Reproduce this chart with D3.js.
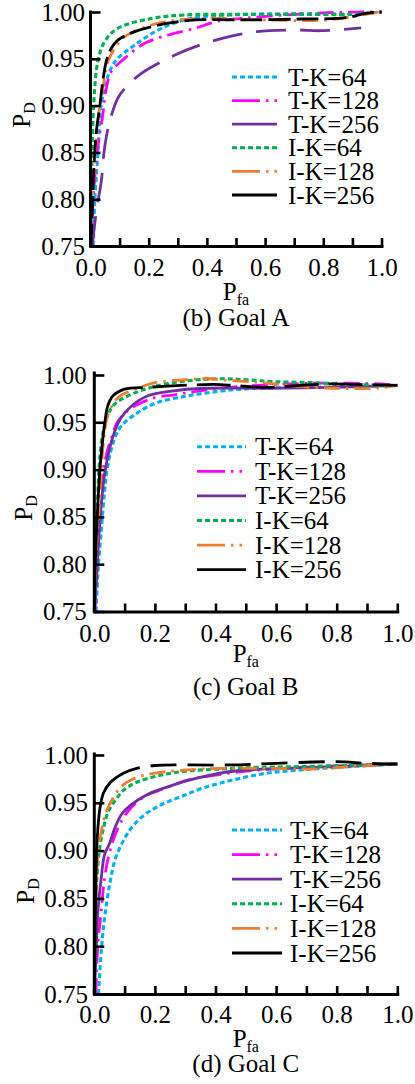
<!DOCTYPE html>
<html>
<head>
<meta charset="utf-8">
<script src="https://cdn.jsdelivr.net/npm/d3@7"></script>
<style>
  body { margin: 0; background: #fff; }
  svg { display: block; }
  text { font-family: "Liberation Serif", "Times New Roman", serif; fill: #000; }
</style>
</head>
<body>
<svg id="chart" width="415" height="1084"></svg>
<script>
// ---- series and tick definitions ----
const seriesNames  = ["T-K=64", "T-K=128", "T-K=256", "I-K=64", "I-K=128", "I-K=256"];
const seriesColors = ["#00b0f0", "#ff00ff", "#7030a0", "#00b050", "#ed7d31", "#000000"];
const yTickValues  = [0.75, 0.80, 0.85, 0.90, 0.95, 1.00];
const xTickValues  = [0, 0.1, 0.2, 0.3, 0.4, 0.5, 0.6, 0.7, 0.8, 0.9, 1.0];
const xLabelValues = [0, 0.2, 0.4, 0.6, 0.8, 1.0];
const panelCaptions = ["(b) Goal A", "(c) Goal B", "(d) Goal C"];

// ---- ROC points [Pfa, PD], Goal A ----
const goalA_TK64  = [[0.010,0.750],[0.014,0.794],[0.025,0.847],[0.037,0.901],[0.054,0.9255],[0.071,0.940],[0.094,0.9505],[0.152,0.9647],[0.244,0.9826],[0.347,0.9933],[0.50,0.997],[0.70,0.998],[0.90,0.998],[1.0,1.0]];
const goalA_TK128 = [[0.006,0.750],[0.008,0.794],[0.025,0.855],[0.042,0.890],[0.054,0.918],[0.071,0.936],[0.117,0.9505],[0.186,0.9665],[0.267,0.9754],[0.359,0.9826],[0.433,0.9897],[0.548,0.994],[0.709,0.9975],[0.859,0.9997],[1.0,1.0]];
const goalA_TK256 = [[0.006,0.750],[0.020,0.787],[0.037,0.819],[0.048,0.854],[0.066,0.883],[0.094,0.908],[0.117,0.918],[0.175,0.9345],[0.290,0.954],[0.376,0.9647],[0.491,0.9747],[0.571,0.979],[0.709,0.9808],[0.790,0.980],[0.930,0.983]];
const goalA_IK64  = [[0.001,0.750],[0.002,0.790],[0.006,0.850],[0.011,0.901],[0.025,0.947],[0.048,0.968],[0.094,0.9826],[0.209,0.993],[0.324,0.9968],[0.50,0.9975],[0.70,0.9975],[0.90,0.9975],[1.0,1.0]];
const goalA_IK128 = [[0.001,0.750],[0.003,0.783],[0.014,0.837],[0.025,0.883],[0.042,0.918],[0.060,0.947],[0.083,0.961],[0.117,0.9736],[0.209,0.9861],[0.301,0.9915],[0.433,0.9932],[0.606,0.9915],[0.813,0.9915],[0.990,1.0]];
const goalA_IK256 = [[0.001,0.750],[0.005,0.776],[0.011,0.829],[0.020,0.872],[0.031,0.897],[0.042,0.9255],[0.054,0.947],[0.071,0.961],[0.094,0.970],[0.152,0.979],[0.267,0.988],[0.359,0.9915],[0.525,0.9915],[0.720,0.9925],[0.882,0.994],[0.945,0.9986],[1.0,1.0]];

// ---- Goal B ----
const goalB_TK64  = [[0.006,0.750],[0.012,0.792],[0.023,0.835],[0.034,0.877],[0.045,0.905],[0.067,0.933],[0.089,0.946],[0.133,0.958],[0.200,0.970],[0.309,0.978],[0.419,0.983],[0.514,0.9857],[0.789,0.9874],[1.0,0.989]];
const goalB_TK128 = [[0.002,0.750],[0.007,0.799],[0.018,0.852],[0.029,0.895],[0.040,0.916],[0.056,0.933],[0.078,0.951],[0.122,0.965],[0.200,0.976],[0.265,0.979],[0.342,0.983],[0.450,0.987],[0.635,0.9905],[0.789,0.9915],[0.943,0.9905],[1.0,0.989]];
const goalB_TK256 = [[0.001,0.753],[0.007,0.782],[0.015,0.828],[0.023,0.863],[0.034,0.895],[0.051,0.923],[0.067,0.940],[0.089,0.955],[0.122,0.967],[0.177,0.978],[0.254,0.983],[0.364,0.986],[0.569,0.986],[0.789,0.987],[1.0,0.989]];
const goalB_IK64  = [[0.000,0.750],[0.001,0.771],[0.007,0.835],[0.012,0.877],[0.018,0.912],[0.029,0.940],[0.045,0.958],[0.067,0.969],[0.111,0.978],[0.200,0.988],[0.309,0.994],[0.419,0.996],[0.500,0.995],[0.591,0.993],[0.712,0.992],[0.844,0.990],[1.0,0.989]];
const goalB_IK128 = [[0.000,0.750],[0.001,0.764],[0.007,0.817],[0.018,0.870],[0.025,0.909],[0.034,0.940],[0.045,0.958],[0.078,0.976],[0.144,0.986],[0.200,0.992],[0.300,0.995],[0.370,0.9963],[0.420,0.995],[0.547,0.992],[0.712,0.987],[0.844,0.9857],[0.943,0.9864],[1.0,0.989]];
const goalB_IK256 = [[0.000,0.750],[0.003,0.799],[0.010,0.852],[0.018,0.898],[0.025,0.923],[0.034,0.948],[0.045,0.968],[0.062,0.978],[0.100,0.985],[0.177,0.987],[0.287,0.989],[0.397,0.990],[0.458,0.989],[0.558,0.987],[0.668,0.9887],[0.767,0.9905],[0.866,0.990],[1.0,0.989]];

// ---- Goal C ----
const goalC_TK64  = [[0.014,0.750],[0.023,0.795],[0.034,0.830],[0.051,0.865],[0.067,0.889],[0.089,0.906],[0.122,0.9236],[0.166,0.9375],[0.221,0.948],[0.287,0.9566],[0.364,0.966],[0.459,0.974],[0.569,0.981],[0.679,0.9844],[0.789,0.9868],[0.899,0.9889],[1.0,0.9906]];
const goalC_TK128 = [[0.005,0.750],[0.012,0.802],[0.023,0.837],[0.034,0.8715],[0.051,0.899],[0.078,0.9236],[0.111,0.941],[0.166,0.9566],[0.232,0.965],[0.310,0.974],[0.400,0.979],[0.550,0.9845],[0.750,0.988],[1.0,0.9906]];
const goalC_TK256 = [[0.001,0.7534],[0.007,0.802],[0.012,0.837],[0.023,0.8716],[0.034,0.896],[0.051,0.908],[0.067,0.923],[0.089,0.9375],[0.122,0.948],[0.177,0.959],[0.254,0.968],[0.342,0.976],[0.458,0.983],[0.624,0.986],[0.844,0.9885],[1.0,0.9906]];
const goalC_IK64  = [[0.000,0.750],[0.002,0.800],[0.005,0.850],[0.010,0.878],[0.018,0.903],[0.030,0.923],[0.045,0.940],[0.070,0.953],[0.100,0.964],[0.144,0.972],[0.221,0.979],[0.309,0.9833],[0.419,0.9854],[0.500,0.9868],[0.700,0.988],[1.0,0.9906]];
const goalC_IK128 = [[0.000,0.750],[0.003,0.820],[0.007,0.865],[0.012,0.896],[0.023,0.920],[0.040,0.941],[0.062,0.955],[0.089,0.967],[0.133,0.9757],[0.200,0.981],[0.309,0.9844],[0.419,0.986],[0.569,0.986],[0.734,0.9854],[0.844,0.9878],[1.0,0.9906]];
const goalC_IK256 = [[0.000,0.750],[0.003,0.820],[0.006,0.880],[0.010,0.915],[0.019,0.945],[0.030,0.960],[0.052,0.971],[0.096,0.981],[0.140,0.986],[0.200,0.989],[0.300,0.9896],[0.450,0.9896],[0.600,0.9913],[0.800,0.993],[0.900,0.9913],[1.0,0.9906]];

const goalA = [goalA_TK64, goalA_TK128, goalA_TK256, goalA_IK64, goalA_IK128, goalA_IK256];
const goalB = [goalB_TK64, goalB_TK128, goalB_TK256, goalB_IK64, goalB_IK128, goalB_IK256];
const goalC = [goalC_TK64, goalC_TK128, goalC_TK256, goalC_IK64, goalC_IK128, goalC_IK256];

// ---- line styles ----
const DOT = "5,3";
const DASHDOT = "16,6,2.5,6";
const LEGEND_DASHDOT = "28,6,2.5,6,2.5,30";
// per panel: dash pattern for each series, plus optional solid lead-in for the black curve
const panelStyles = [
  { dash: [DOT, DASHDOT, "30,14", DOT, DASHDOT, "22,6"], solidUntil: [null, null, null, null, null, null] },
  { dash: [DOT, DASHDOT, null, DOT, DASHDOT, "34,10"],  solidUntil: [null, null, null, null, null, 0.16] },
  { dash: [DOT, DASHDOT, null, DOT, DASHDOT, "26,11"],  solidUntil: [null, null, null, null, null, 0.15] }
];
const legendDash = [DOT, LEGEND_DASHDOT, null, DOT, LEGEND_DASHDOT, null];

// ---- panel geometry ----
const panels = [
  { data: goalA, x0: 90.5, x1: 381.5, yTop: 12,  yBot: 246,   axisTop: 12,
    yPad: 5.5, xPad: 11.75, legX0: 232, legX1: 277, legText: 288, legY0: 77,    legStep: 23.6,
    pdX: 30, pdY: 115, pfaY: 300, capY: 326 },
  { data: goalB, x0: 94.3, x1: 397.3, yTop: 375, yBot: 611.5, axisTop: 373,
    yPad: 7.5, xPad: 12.75, legX0: 197, legX1: 246, legText: 255, legY0: 446.7, legStep: 24.6,
    pdX: 32, pdY: 508, pfaY: 662, capY: 695 },
  { data: goalC, x0: 94.3, x1: 397.3, yTop: 755, yBot: 994,   axisTop: 754,
    yPad: 6.3, xPad: 11.25, legX0: 232, legX1: 282, legText: 290, legY0: 830,   legStep: 24.6,
    pdX: 34, pdY: 891, pfaY: 1047, capY: 1072 }
];

const svg = d3.select("#chart");
const FONT = 25;
const SUB = 16;

// dash array that keeps the path solid up to screen x = xSplit, then repeats the pattern
function solidThenDashed(node, xSplit, pattern) {
  const L = node.getTotalLength();
  let lo = 0, hi = L;
  for (let i = 0; i < 40; i++) {
    const m = (lo + hi) / 2;
    if (node.getPointAtLength(m).x < xSplit) lo = m; else hi = m;
  }
  const [dash, gap] = pattern.split(",").map(Number);
  const arr = [lo];
  let acc = lo;
  while (acc < L) { arr.push(gap, dash); acc += gap + dash; }
  return arr.join(",");
}

panels.forEach((p, pi) => {
  const x = d3.scaleLinear().domain([0, 1]).range([p.x0, p.x1]);
  const y = d3.scaleLinear().domain([0.75, 1.0]).range([p.yBot, p.yTop]);
  const g = svg.append("g");

  // ROC curves
  const line = d3.line()
    .x(d => x(d[0]))
    .y(d => y(d[1]))
    .curve(d3.curveCatmullRom.alpha(0.5));

  p.data.forEach((pts, si) => {
    const path = g.append("path")
      .attr("d", line(pts))
      .attr("fill", "none")
      .attr("stroke", seriesColors[si])
      .attr("stroke-width", (si === 0 || si === 3) ? 3.1 : 2.8)
      .attr("stroke-linecap", "butt")
      .attr("stroke-linejoin", "round");
    const dash = panelStyles[pi].dash[si];
    const split = panelStyles[pi].solidUntil[si];
    if (dash && split != null) {
      path.attr("stroke-dasharray", solidThenDashed(path.node(), x(split), dash));
    } else if (dash) {
      path.attr("stroke-dasharray", dash);
    }
  });

  // y axis with inward ticks
  const yAxis = d3.axisLeft(y)
    .tickValues(yTickValues)
    .tickFormat(d3.format(".2f"))
    .tickSizeInner(-10)
    .tickSizeOuter(0)
    .tickPadding(p.yPad);
  const ya = g.append("g").attr("transform", `translate(${p.x0},0)`).call(yAxis);

  // x axis with inward ticks every 0.1, labels every 0.2
  const xAxis = d3.axisBottom(x)
    .tickValues(xTickValues)
    .tickFormat(d => xLabelValues.some(v => Math.abs(v - d) < 1e-9) ? d3.format(".1f")(d) : "")
    .tickSizeInner(-8)
    .tickSizeOuter(0)
    .tickPadding(p.xPad);
  const xa = g.append("g").attr("transform", `translate(0,${p.yBot})`).call(xAxis);

  [ya, xa].forEach(a => {
    a.select(".domain").attr("stroke", "#000").attr("stroke-width", 3).attr("stroke-linecap", "square");
    a.selectAll(".tick line").attr("stroke", "#000").attr("stroke-width", 2.6);
    a.selectAll(".tick text").attr("font-size", FONT)
      .attr("font-family", "'Liberation Serif','Times New Roman',serif").attr("fill", "#000");
  });
  ya.select(".domain").attr("d", `M0,${p.yBot}V${p.axisTop}`);

  // axis titles
  const pd = g.append("text")
    .attr("transform", `translate(${p.pdX},${p.pdY}) rotate(-90)`)
    .attr("text-anchor", "middle")
    .attr("font-size", FONT);
  pd.append("tspan").text("P");
  pd.append("tspan").attr("font-size", SUB).attr("dy", 5).text("D");

  const pfa = g.append("text")
    .attr("x", (p.x0 + p.x1) / 2)
    .attr("y", p.pfaY)
    .attr("text-anchor", "middle")
    .attr("font-size", FONT);
  pfa.append("tspan").text("P");
  pfa.append("tspan").attr("font-size", SUB).attr("dy", 5).text("fa");

  g.append("text")
    .attr("x", (p.x0 + p.x1) / 2)
    .attr("y", p.capY)
    .attr("text-anchor", "middle")
    .attr("font-size", FONT)
    .text(panelCaptions[pi]);

  // legend
  seriesNames.forEach((name, si) => {
    const ly = p.legY0 + si * p.legStep;
    const l = g.append("line")
      .attr("x1", p.legX0).attr("x2", p.legX1)
      .attr("y1", ly).attr("y2", ly)
      .attr("stroke", seriesColors[si])
      .attr("stroke-width", (si === 0 || si === 3) ? 3.1 : 2.8);
    if (legendDash[si]) l.attr("stroke-dasharray", legendDash[si]);
    g.append("text")
      .attr("x", p.legText)
      .attr("y", ly + 8.5)
      .attr("font-size", FONT)
      .text(name);
  });
});
</script>
</body>
</html>
